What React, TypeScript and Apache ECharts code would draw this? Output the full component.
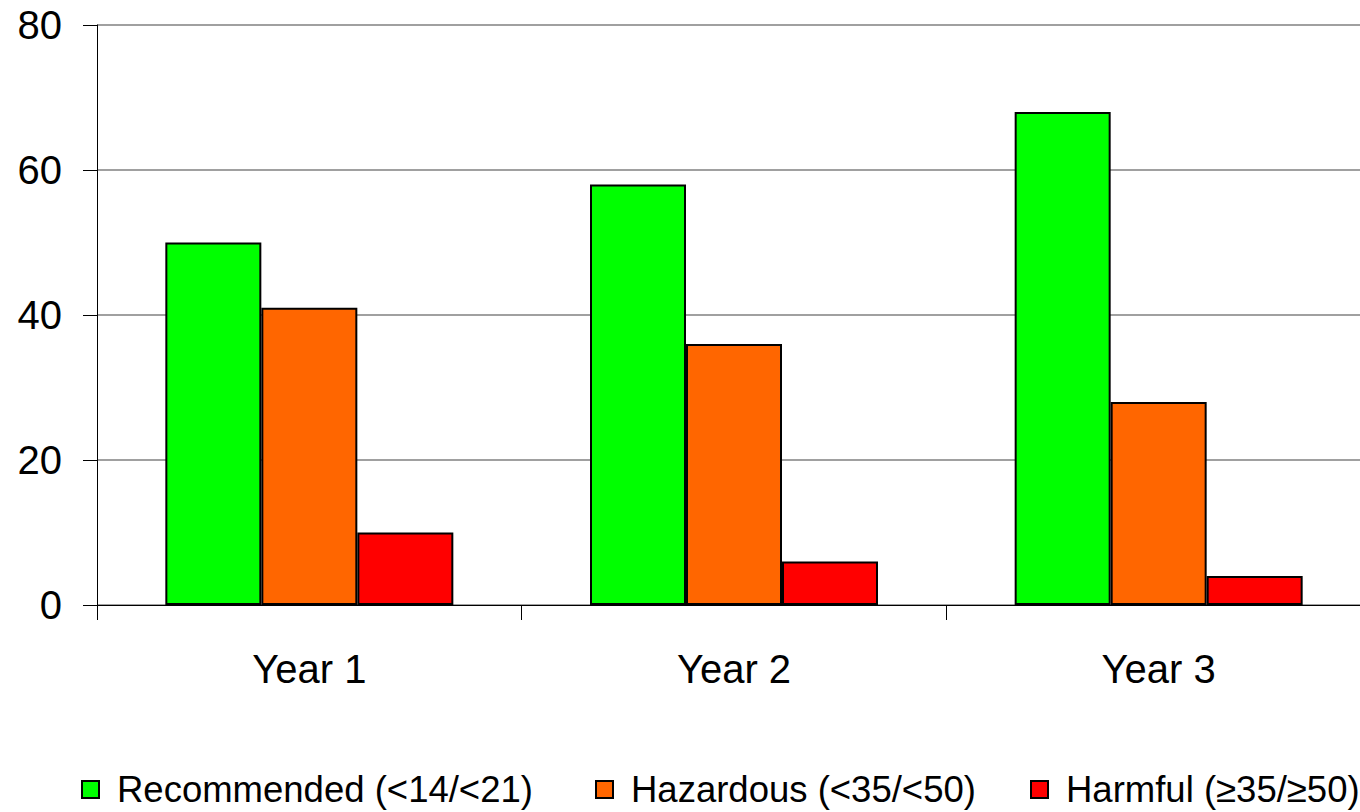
import React, { useEffect, useRef } from "react";
import * as echarts from "echarts";

// Drinking levels by year (percent of respondents)
const categories = ["Year 1", "Year 2", "Year 3"];
const seriesNames = [
  "Recommended (<14/<21)",
  "Hazardous (<35/<50)",
  "Harmful (\u226535/\u226550)",
];
const recommended = [50, 58, 68];
const hazardous = [41, 36, 28];
const harmful = [10, 6, 4];
const seriesColors = ["#00FF00", "#FF6600", "#FF0000"];
const yTicks = { min: 0, max: 80, interval: 20 };

const FONT = "'Liberation Sans', Arial, sans-serif";
// left edge of each legend entry
const legendLefts = [81, 595, 1030];

export default function App() {
  const ref = useRef<HTMLDivElement>(null);

  useEffect(() => {
    if (!ref.current) return;
    const chart = echarts.init(ref.current, undefined, { renderer: "svg" });
    const values = [recommended, hazardous, harmful];
    chart.setOption({
      animation: false,
      backgroundColor: "#ffffff",
      textStyle: { fontFamily: FONT },
      grid: { left: 97, right: 0, top: 25, bottom: 207, containLabel: false },
      legend: seriesNames.map((name, i) => ({
        left: legendLefts[i],
        top: 771,
        padding: 0,
        orient: "horizontal",
        itemWidth: 17,
        itemHeight: 17,
        icon: "rect",
        textStyle: {
          fontFamily: FONT,
          fontSize: 36.5,
          color: "#000",
          padding: [0, 0, 0, 13],
        },
        data: [name],
      })),
      xAxis: {
        type: "category",
        data: categories,
        axisLine: { show: true, lineStyle: { color: "#000", width: 1 } },
        axisTick: {
          show: true,
          length: 15,
          alignWithLabel: false,
          lineStyle: { color: "#000", width: 1 },
        },
        axisLabel: {
          fontFamily: FONT,
          fontSize: 40,
          color: "#000",
          margin: 44,
          lineHeight: 40,
        },
        splitLine: { show: false },
      },
      yAxis: {
        type: "value",
        min: yTicks.min,
        max: yTicks.max,
        interval: yTicks.interval,
        axisLine: { show: true, lineStyle: { color: "#000", width: 1 } },
        axisTick: { show: true, length: 14, lineStyle: { color: "#000", width: 1 } },
        axisLabel: { fontFamily: FONT, fontSize: 40, color: "#000", margin: 35 },
        splitLine: { show: true, lineStyle: { color: "#808080", width: 1.5 } },
      },
      series: seriesNames.map((name, i) => ({
        name,
        type: "bar",
        data: values[i],
        barWidth: 96,
        barGap: "0%",
        itemStyle: {
          color: seriesColors[i],
          borderColor: "#000",
          borderWidth: 2,
        },
      })),
    });
    return () => chart.dispose();
  }, []);

  // The plot runs a little past the right edge of the frame, so the chart
  // canvas is wider than the visible area and the overflow is clipped.
  return (
    <div
      style={{
        position: "absolute",
        left: 0,
        top: 0,
        width: 1360,
        height: 812,
        overflow: "hidden",
      }}
    >
      <div ref={ref} style={{ width: 1371, height: 812 }} />
    </div>
  );
}
